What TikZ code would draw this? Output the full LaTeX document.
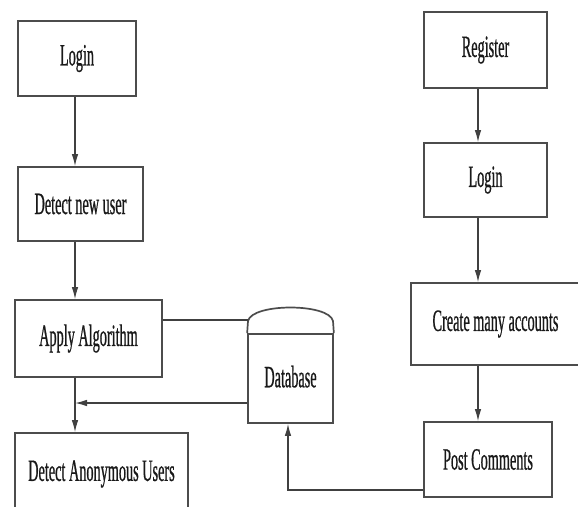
\documentclass[tikz,border=0pt]{standalone}
\usepackage{fontspec}
\setmainfont{Liberation Serif}[FakeStretch=0.46,FakeBold=0.6]
\usetikzlibrary{arrows.meta}
\begin{document}
\begin{tikzpicture}[x=1pt,y=-1pt,
  box/.style={draw=black!70,line width=1.7pt,fill=white,inner sep=0pt,
    font=\fontsize{31}{32}\selectfont,text=black!90},
  conn/.style={draw=black!75,line width=1.2pt},
  arr/.style={conn,-{Latex[length=12pt,width=6.5pt]}}]
\useasboundingbox (0,0) rectangle (578,506);
% left column
\node[box,minimum width=118pt,minimum height=75pt] (login1) at (77,58.5) {Login};
\node[box,minimum width=125pt,minimum height=74pt] (detect) at (80.5,204) {Detect new user};
\node[box,minimum width=147pt,minimum height=77pt] (apply) at (88.5,338.5) {Apply Algorithm};
\node[box,minimum width=173pt,minimum height=82pt] (anon) at (101.5,474) {Detect Anonymous Users};
% database
\node[box,minimum width=85pt,minimum height=89pt,text depth=0pt] (db) at (290.5,378.5) {\raisebox{4pt}{Database}};
\draw[draw=black!70,line width=1.7pt] (db.north west) -- (248,321) .. controls (252,303) and (329,303) .. (333,321) -- (db.north east);
% right column
\node[box,minimum width=123pt,minimum height=76pt] (register) at (485.5,50) {Register};
\node[box,minimum width=123pt,minimum height=74pt] (login2) at (485.5,180) {Login};
\node[box,minimum width=169pt,minimum height=82pt] (create) at (495.5,324) {Create many accounts};
\node[box,minimum width=128pt,minimum height=75pt] (post) at (488,459.5) {Post Comments};
% helper coordinates
\coordinate (j) at (75,403);
\coordinate (r) at (478,0);
\coordinate (k) at (288,490);
\coordinate (dl) at (248,320);
% connectors
\draw[arr] (login1.south -| j) -- (detect.north -| j);
\draw[arr] (detect.south -| j) -- (apply.north -| j);
\draw[arr] (apply.south -| j) -- (anon.north -| j);
\draw[arr] (db.west |- j) -- (j);
\draw[conn] (apply.east |- dl) -- (dl);
\draw[arr] (register.south -| r) -- (login2.north -| r);
\draw[arr] (login2.south -| r) -- (create.north -| r);
\draw[arr] (create.south -| r) -- (post.north -| r);
\draw[arr] (post.west |- k) -- (k) -- (k |- db.south);
\end{tikzpicture}
\end{document}
